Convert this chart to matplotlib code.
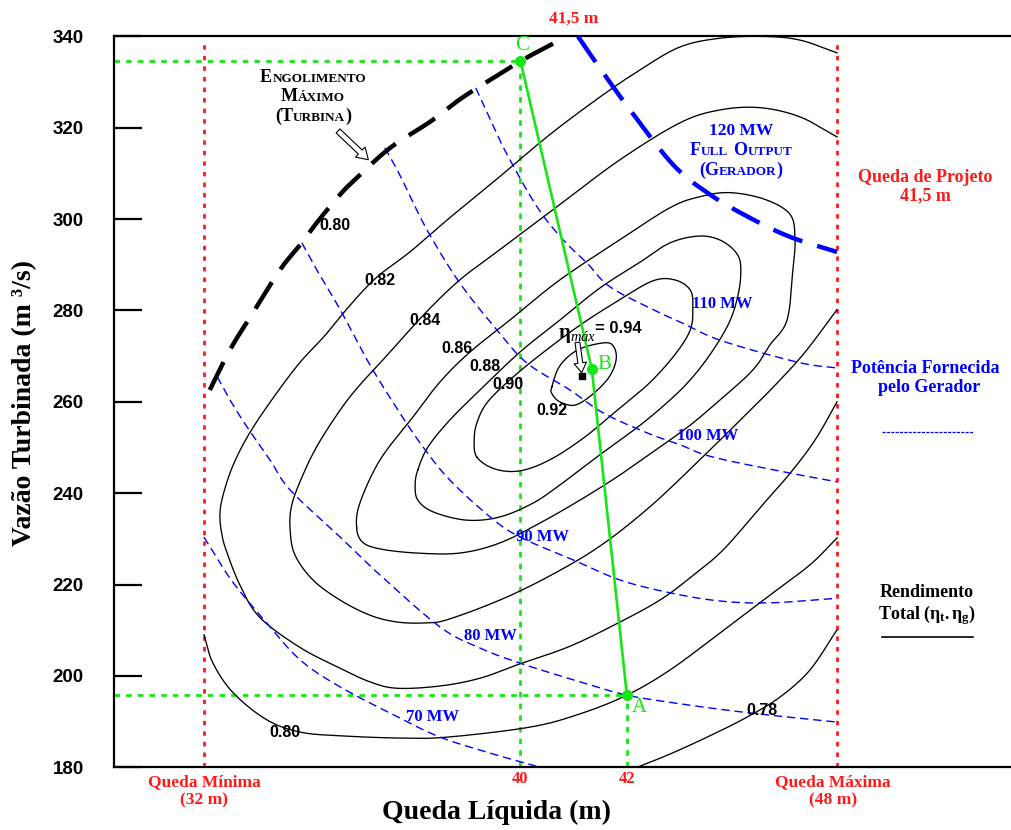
import numpy as np
import matplotlib
matplotlib.use('Agg')
import matplotlib.pyplot as plt
from matplotlib.lines import Line2D
from matplotlib.offsetbox import TextArea, HPacker, VPacker, AnnotationBbox

SERIF = 'Liberation Serif'
SANS = 'Liberation Sans'
plt.rcParams.update({
    'mathtext.fontset': 'custom',
    'mathtext.rm': SERIF,
    'mathtext.it': SERIF + ':italic',
    'mathtext.bf': SERIF + ':bold',
})

# ---------------- data (head in m, flow in m3/s) ----------------
eta_078_head = [42.19, 42.81, 43.56, 44.26, 44.88, 45.44, 45.95]
eta_078_flow = [180.0, 182.9, 186.9, 191.0, 195.4, 201.3, 210.1]

eta_080_head = [34.05, 34.22, 34.60, 35.23, 35.86, 36.61, 37.73, 38.62, 40.18, 41.12,
                42.00, 42.81, 43.75, 44.69, 45.44, 45.95]
eta_080_flow = [209.0, 202.8, 196.3, 190.4, 187.7, 186.9, 186.4, 186.6, 188.8, 191.7,
                195.8, 201.3, 209.4, 217.7, 224.3, 230.2]

eta_082_head = [45.95, 45.25, 44.56, 43.75, 43.00, 42.25, 41.49, 40.55, 39.61, 38.67,
                37.92, 37.30, 36.80, 36.33, 35.86, 35.39, 34.92, 34.60, 34.41, 34.35,
                34.39, 34.48, 34.73, 35.10, 35.86, 36.61, 37.17, 37.68, 38.49, 39.24,
                39.93, 40.93, 41.87, 42.62, 43.19, 43.81, 44.50, 45.07, 45.54, 45.95]
eta_082_flow = [336.4, 339.2, 340.0, 339.6, 337.7, 332.7, 326.7, 318.5, 309.3, 300.3,
                292.8, 287.3, 281.2, 274.6, 268.7, 261.5, 253.4, 246.2, 239.6, 235.2,
                230.8, 227.1, 219.8, 212.8, 206.2, 201.7, 198.7, 197.3, 197.8, 199.5,
                202.4, 206.5, 211.8, 216.6, 221.5, 227.6, 236.8, 244.4, 251.7, 260.0]

eta_084_head = [45.95, 45.25, 44.50, 43.75, 43.00, 41.87, 40.74, 39.61, 38.86, 38.20,
                37.55, 36.98, 36.61, 36.19, 35.91, 35.70, 35.67, 35.76, 36.10, 36.61,
                37.17, 37.68, 38.20, 38.62, 39.61, 40.55, 41.49, 42.43, 43.37, 44.13,
                44.79, 45.35, 45.95]
eta_084_flow = [318.0, 322.4, 324.4, 323.9, 321.1, 313.0, 303.2, 293.3, 286.7, 279.3,
                270.9, 263.7, 258.2, 250.6, 244.0, 237.4, 232.0, 226.5, 221.0, 216.6,
                213.3, 211.8, 211.6, 212.3, 216.6, 221.9, 228.4, 237.0, 247.3, 256.0,
                263.7, 270.9, 280.2]

eta_086_head = [36.92, 36.98, 37.36, 37.98, 38.49, 39.05, 39.80, 40.74, 41.87, 42.81,
                43.37, 43.94, 44.60, 45.07, 45.16, 45.12, 45.01, 44.69, 44.37, 43.75,
                43.19, 42.62, 41.87, 41.12, 40.37, 39.61, 38.86, 38.05, 37.36, 37.03]
eta_086_flow = [232.5, 237.8, 247.3, 256.7, 264.4, 270.9, 277.9, 286.7, 295.5, 302.5,
                304.9, 305.8, 304.3, 301.0, 295.5, 288.9, 277.9, 272.5, 267.0, 260.4,
                254.9, 250.1, 244.0, 238.5, 233.5, 229.1, 226.9, 226.9, 227.8, 229.3]

eta_088_head = [38.07, 38.26, 38.67, 39.24, 39.99, 40.74, 41.49, 42.25, 42.81, 43.37,
                43.79, 44.09, 44.14, 44.07, 43.90, 43.56, 43.19, 42.81, 42.25, 41.49,
                40.74, 40.23, 39.61, 38.99, 38.36, 38.07, 38.02]
eta_088_flow = [245.1, 250.1, 256.0, 262.6, 270.9, 277.9, 284.9, 290.6, 294.8, 296.3,
                295.2, 292.0, 287.8, 282.4, 276.8, 270.3, 264.8, 260.4, 254.9, 248.4,
                241.8, 237.8, 234.8, 234.1, 235.9, 238.5, 241.8]

eta_090_head = [39.18, 39.13, 39.18, 39.37, 39.80, 40.37, 41.12, 41.87, 42.49, 42.90,
                43.19, 43.24, 43.19, 42.90, 42.43, 41.87, 41.21, 40.55, 39.99, 39.52]
eta_090_flow = [247.9, 251.7, 255.4, 259.8, 264.8, 270.3, 276.8, 282.4, 286.5, 286.7,
                284.5, 280.6, 275.7, 270.3, 264.2, 258.7, 252.3, 247.3, 244.9, 245.3]

eta_092_head = [40.59, 40.74, 41.08, 41.55, 41.74, 41.80, 41.67, 41.37, 41.03, 40.74, 40.59]
eta_092_flow = [263.3, 267.9, 271.4, 272.9, 272.3, 269.4, 265.5, 261.8, 259.3, 260.0, 261.8]

p70_head = [34.05, 34.20, 34.60, 35.23, 35.86, 36.61, 37.73, 38.49, 39.43, 40.37]
p70_flow = [230.4, 227.6, 220.4, 211.6, 203.5, 197.6, 190.8, 186.6, 183.1, 180.0]

p80_head = [34.30, 34.54, 34.86, 35.29, 35.67, 36.61, 37.36, 38.49, 39.24, 39.99,
            41.12, 42.00, 43.00, 44.31, 45.95]
p80_flow = [265.5, 260.4, 254.5, 247.3, 240.7, 230.4, 222.1, 210.7, 206.1, 202.8,
            198.7, 195.8, 193.9, 191.9, 189.9]

p90_head = [35.89, 36.17, 36.61, 37.17, 37.73, 38.17, 38.67, 39.43, 39.99, 40.99,
            41.87, 42.81, 43.75, 44.69, 45.95]
p90_flow = [294.8, 288.9, 280.2, 268.1, 257.6, 250.1, 242.9, 234.8, 230.4, 225.4,
            221.0, 218.2, 216.4, 216.0, 217.0]

p100_head = [37.45, 37.73, 38.24, 38.86, 39.56, 40.12, 40.93, 41.55, 42.38, 43.00,
             43.62, 45.07, 45.95]
p100_flow = [315.6, 309.7, 297.7, 286.0, 275.7, 268.5, 262.6, 257.6, 253.2, 250.6,
             247.9, 244.4, 242.5]

p110_head = [39.16, 39.48, 39.75, 40.31, 40.80, 41.25, 41.68, 42.49, 43.00, 43.75,
             45.20, 45.95]
p110_flow = [328.7, 320.6, 314.1, 302.7, 295.5, 290.4, 285.2, 280.2, 277.5, 273.5,
             268.7, 267.4]

p120_head = [41.08, 41.49, 42.06, 42.87, 43.56, 44.31, 45.07, 45.95]
p120_flow = [340.0, 333.1, 323.9, 311.9, 305.4, 300.3, 296.1, 292.8]

engol_head = [34.16, 34.54, 34.97, 35.48, 35.86, 36.17, 36.61, 36.93, 37.55, 38.30,
              38.92, 39.67, 40.00, 40.46, 40.87]
engol_flow = [262.6, 271.4, 279.5, 288.9, 294.4, 299.2, 305.4, 309.1, 315.6, 321.3,
              326.7, 332.2, 334.6, 337.5, 340.0]

op_names = ['C', 'B', 'A']
op_head = [40.00, 41.34, 42.00]
op_flow = [334.6, 267.2, 195.8]

eta_max_head, eta_max_flow, eta_max_value = 41.16, 265.7, 0.94
queda_min_pos, queda_max_pos = 34.05, 45.95
x_ticks = [40, 42]
y_ticks = [180, 200, 220, 240, 260, 280, 300, 320, 340]

eta_label_text = ['0.80', '0.82', '0.84', '0.86', '0.88', '0.90', '0.92', '0.80', '0.78']
eta_label_head = [36.51, 37.36, 38.20, 38.81, 39.33, 39.77, 40.59, 35.57, 44.54]
eta_label_flow = [298.5, 286.5, 277.7, 271.6, 267.7, 263.7, 258.0, 187.7, 192.4]

mw_label_text = ['70 MW', '80 MW', '90 MW', '100 MW', '110 MW']
mw_label_head = [38.34, 39.43, 40.41, 43.52, 43.79]
mw_label_flow = [191.0, 208.7, 230.4, 252.5, 281.4]

# ---------------- helpers ----------------
W, H = 1011, 830
RED = '#ff1a1a'
GREEN = '#16e616'
BLUE = '#0000ff'


def smooth(x, y, closed=False, n=14):
    P = np.column_stack([x, y]).astype(float)
    if closed:
        P = np.vstack([P[-1], P, P[0], P[1]])
    else:
        P = np.vstack([2 * P[0] - P[1], P, 2 * P[-1] - P[-2]])
    out = []
    t = np.linspace(0, 1, n, endpoint=False)[:, None]
    for i in range(1, len(P) - 2):
        p0, p1, p2, p3 = P[i - 1], P[i], P[i + 1], P[i + 2]
        seg = 0.5 * (2 * p1 + (-p0 + p2) * t + (2 * p0 - 5 * p1 + 4 * p2 - p3) * t ** 2
                     + (-p0 + 3 * p1 - 3 * p2 + p3) * t ** 3)
        out.append(seg)
    out.append(P[-2][None])
    out = np.vstack(out)
    return out[:, 0], out[:, 1]


def fpos(px, py):
    return px / W, 1 - py / H


def smallcaps(lines, big, small, color):
    vlines = []
    for line in lines:
        words = []
        for word in line.split(' '):
            runs, cur, cur_big = [], '', None
            for ch in word:
                isbig = not ch.islower()
                if cur_big is None or isbig == cur_big:
                    cur += ch
                else:
                    runs.append((cur, cur_big))
                    cur = ch
                cur_big = isbig
            runs.append((cur, cur_big))
            kids = [TextArea(r if b else r.upper(),
                             textprops=dict(fontsize=big if b else small, fontfamily=SERIF,
                                            fontweight='bold', color=color))
                    for r, b in runs]
            words.append(HPacker(children=kids, align='baseline', pad=0, sep=0))
        vlines.append(HPacker(children=words, align='baseline', pad=0, sep=big * 0.3))
    return VPacker(children=vlines, align='center', pad=0, sep=2)


# ---------------- figure ----------------
fig = plt.figure(figsize=(W / 100, H / 100), dpi=100)
ax = fig.add_axes([114.3 / W, 1 - 767.3 / H, 1 - 114.3 / W, (767.3 - 36.4) / H])
xmin, xmax = 32.365, 49.22
ax.set_xlim(xmin, xmax)
ax.set_ylim(180, 340)

# efficiency curves
for hx, qy, closed in [(eta_078_head, eta_078_flow, False), (eta_080_head, eta_080_flow, False),
                       (eta_082_head, eta_082_flow, False), (eta_084_head, eta_084_flow, False),
                       (eta_086_head, eta_086_flow, True), (eta_088_head, eta_088_flow, True),
                       (eta_090_head, eta_090_flow, True), (eta_092_head, eta_092_flow, True)]:
    xs, ys = smooth(hx, qy, closed)
    ax.plot(xs, ys, color='black', lw=0.95, zorder=3)

# power curves
for hx, qy in [(p70_head, p70_flow), (p80_head, p80_flow), (p90_head, p90_flow),
               (p100_head, p100_flow), (p110_head, p110_flow)]:
    xs, ys = smooth(hx, qy)
    ax.plot(xs, ys, color=BLUE, lw=1.0, dashes=(6, 3.5), zorder=4)

xs, ys = smooth(p120_head, p120_flow)
ax.plot(xs, ys, color=BLUE, lw=3.2, dashes=(7, 3.5), zorder=5)
xs, ys = smooth(engol_head, engol_flow)
ax.plot(xs, ys, color='black', lw=3.2, dashes=(7, 3.5), zorder=5)

# limits of head
for xv in [queda_min_pos, queda_max_pos]:
    ax.plot([xv, xv], [180, 338.5], color=RED, lw=2.0, ls=(0, (1.6, 2.2)), zorder=2)

# operating points
ax.plot([op_head[0], op_head[0]], [180, op_flow[0]], color=GREEN, lw=2.0, ls=(0, (2, 2.2)), zorder=2)
ax.plot([op_head[2], op_head[2]], [180, op_flow[2]], color=GREEN, lw=2.0, ls=(0, (2, 2.2)), zorder=2)
ax.plot([xmin, op_head[0]], [op_flow[0], op_flow[0]], color=GREEN, lw=2.0, ls=(0, (2, 2.2)), zorder=2)
ax.plot([xmin, op_head[2]], [op_flow[2], op_flow[2]], color=GREEN, lw=2.0, ls=(0, (2, 2.2)), zorder=2)
ax.plot(op_head, op_flow, color=GREEN, lw=1.9, zorder=6)
ax.plot(op_head, op_flow, 'o', color=GREEN, ms=7, zorder=7)
for name, hx, qy, dx, dy in zip(op_names, op_head, op_flow, [0.03, 0.10, 0.10], [3.5, 0.9, -2.8]):
    ax.text(hx + dx, qy + dy, name, color=GREEN, fontsize=15, fontfamily=SERIF,
            ha='left' if name != 'C' else 'center', va='center', zorder=8)

# maximum efficiency point
ax.plot(eta_max_head, eta_max_flow, 's', color='black', ms=4.5, zorder=7)
ax.annotate('', xy=(41.15, 266.4), xytext=(41.07, 273.0),
            arrowprops=dict(arrowstyle='simple,head_length=0.7,head_width=0.9,tail_width=0.35',
                            fc='white', ec='black', lw=0.8, shrinkA=0, shrinkB=0), zorder=8)
ax.text(41.07, 274.6, r'$\mathbf{\eta}_{\mathit{máx}}$', fontsize=15, ha='center', va='center', zorder=8)
ax.text(41.40, 276.1, '= %.2f' % eta_max_value, fontsize=12, fontfamily=SANS, fontweight='bold',
        ha='left', va='center', zorder=8)

# engolimento arrow
ax.annotate('', xy=(37.14, 313.0), xytext=(36.57, 319.3),
            arrowprops=dict(arrowstyle='simple,head_length=0.8,head_width=1.0,tail_width=0.4',
                            fc='white', ec='black', lw=0.8, shrinkA=0, shrinkB=0), zorder=8)

# labels
for t, hx, qy in zip(eta_label_text, eta_label_head, eta_label_flow):
    ax.text(hx, qy, t, fontsize=11.5, fontfamily=SANS, fontweight='bold', ha='center', va='center', zorder=8)
for t, hx, qy in zip(mw_label_text, mw_label_head, mw_label_flow):
    ax.text(hx, qy, t, fontsize=12, fontfamily=SERIF, fontweight='bold', color=BLUE,
            ha='center', va='center', zorder=8)

# axes styling
for s in ['left', 'bottom', 'top']:
    ax.spines[s].set_linewidth(1.6)
ax.spines['right'].set_visible(False)
ax.set_yticks(y_ticks)
ax.tick_params(axis='y', direction='in', length=20, width=1.6, pad=22, labelsize=13.5)
for lab in ax.get_yticklabels():
    lab.set_fontfamily(SANS)
    lab.set_fontweight('bold')
ax.set_xticks(x_ticks)
ax.set_xticklabels([str(v) for v in x_ticks])
ax.tick_params(axis='x', length=0, pad=3, labelsize=12, labelcolor=RED)
for lab in ax.get_xticklabels():
    lab.set_fontfamily(SERIF)
    lab.set_fontweight('bold')

# outer texts
fig.text(*fpos(25, 403), 'Vazão Turbinada (m ³/s)', rotation=90, ha='center', va='center',
         fontsize=20, fontweight='bold', fontfamily=SERIF)
fig.text(*fpos(496, 812), 'Queda Líquida (m)', ha='center', va='center',
         fontsize=20, fontweight='bold', fontfamily=SERIF)
fig.text(*fpos(574, 19), '41,5 m', ha='center', va='center', fontsize=12.5, fontweight='bold',
         fontfamily=SERIF, color=RED)
fig.text(*fpos(204, 791), 'Queda Mínima\n(32 m)', ha='center', va='center', fontsize=12.5,
         fontweight='bold', fontfamily=SERIF, color=RED, linespacing=1.2)
fig.text(*fpos(833, 791), 'Queda Máxima\n(48 m)', ha='center', va='center', fontsize=12.5,
         fontweight='bold', fontfamily=SERIF, color=RED, linespacing=1.2)
fig.text(*fpos(925, 187), 'Queda de Projeto\n41,5 m', ha='center', va='center', fontsize=13,
         fontweight='bold', fontfamily=SERIF, color=RED, linespacing=1.1)
fig.text(*fpos(925, 378), 'Potência Fornecida\n  pelo Gerador', ha='center', va='center', fontsize=13,
         fontweight='bold', fontfamily=SERIF, color=BLUE, linespacing=1.15)
fig.add_artist(Line2D([882 / W, 973 / W], [1 - 432 / H] * 2, transform=fig.transFigure,
                      color=BLUE, lw=0.9, dashes=(2.5, 1)))
fig.text(*fpos(927, 597), 'Rendimento', ha='center', va='baseline', fontsize=13,
         fontweight='bold', fontfamily=SERIF)
fig.text(*fpos(927, 619), r'Total ($\mathbf{\eta_t.\eta_g}$)', ha='center', va='baseline', fontsize=13,
         fontweight='bold', fontfamily=SERIF)
fig.add_artist(Line2D([882 / W, 973 / W], [1 - 637 / H] * 2, transform=fig.transFigure,
                      color='black', lw=1.2))

# small caps labels
box = smallcaps(['Engolimento', 'Máximo', '(Turbina)'], 13, 9.5, 'black')
ab = AnnotationBbox(box, fpos(313, 97), xycoords='figure fraction', frameon=False,
                    box_alignment=(0.5, 0.5), pad=0, annotation_clip=False, zorder=9)
ax.add_artist(ab)
box2 = VPacker(children=[TextArea('120 MW', textprops=dict(fontsize=12.5, fontfamily=SERIF,
                                                            fontweight='bold', color=BLUE)),
                         smallcaps(['Full Output', '(Gerador)'], 13, 9.5, BLUE)],
               align='center', pad=0, sep=2)
ab2 = AnnotationBbox(box2, fpos(741, 151), xycoords='figure fraction', frameon=False,
                     box_alignment=(0.5, 0.5), pad=0, annotation_clip=False, zorder=9)
ax.add_artist(ab2)

fig.savefig('out.png', dpi=100)
